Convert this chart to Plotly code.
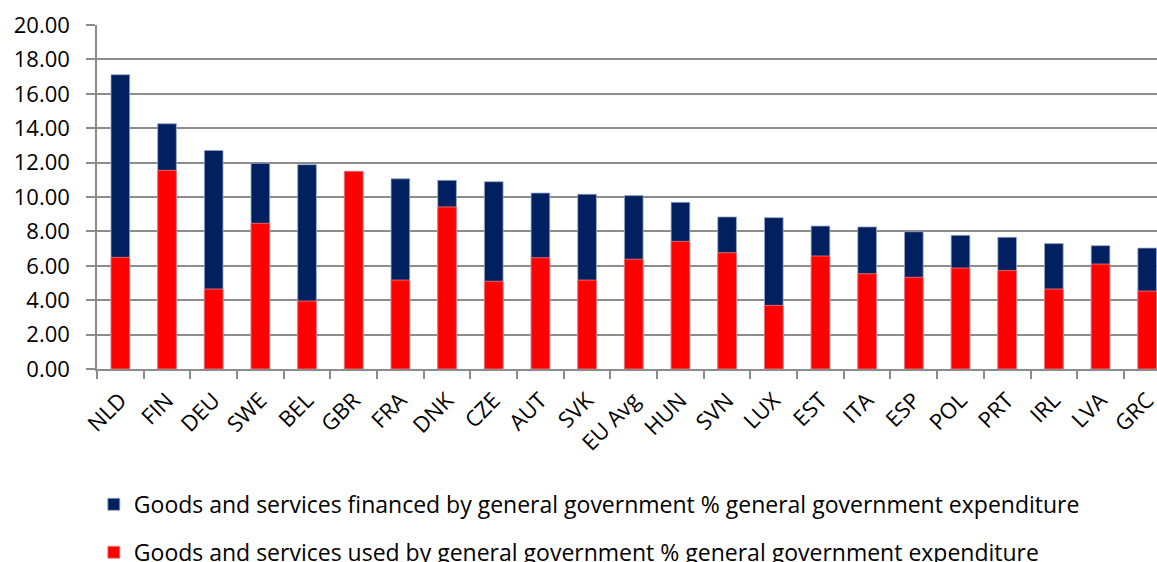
import plotly.graph_objects as go

countries = ["NLD", "FIN", "DEU", "SWE", "BEL", "GBR", "FRA", "DNK", "CZE", "AUT", "SVK",
             "EU Avg", "HUN", "SVN", "LUX", "EST", "ITA", "ESP", "POL", "PRT", "IRL", "LVA", "GRC"]
financed = [17.11, 14.26, 12.71, 11.96, 11.88, 11.49, 11.06, 10.97, 10.89, 10.23, 10.16,
            10.08, 9.69, 8.84, 8.80, 8.31, 8.26, 7.98, 7.77, 7.66, 7.29, 7.17, 7.03]
used = [6.49, 11.55, 4.65, 8.47, 3.95, 11.49, 5.17, 9.42, 5.10, 6.47, 5.17,
        6.38, 7.42, 6.76, 3.70, 6.57, 5.54, 5.33, 5.87, 5.72, 4.65, 6.10, 4.53]
y_ticks = [0, 2, 4, 6, 8, 10, 12, 14, 16, 18, 20]

name_fin = "Goods and services financed by general government % general government expenditure"
name_used = "Goods and services used by general government % general government expenditure"

FONT = "Open Sans"

fig = go.Figure()
fig.add_trace(go.Bar(x=countries, y=financed, name=name_fin, width=0.4,
                     marker=dict(color="#002060", line=dict(color="#9aa8c8", width=0.8)),
                     legendgroup="a"))
fig.add_trace(go.Bar(x=countries, y=used, name=name_used, width=0.4,
                     marker=dict(color="#ff0000", line=dict(color="#f08080", width=0.8)),
                     legendgroup="b"))

fig.update_layout(
    width=1157, height=562,
    barmode="overlay",
    paper_bgcolor="white", plot_bgcolor="white",
    margin=dict(l=97, r=0, t=25, b=193, autoexpand=False),
    font=dict(family=FONT, size=22, color="black"),
    showlegend=True,
    legend=dict(orientation="v", x=-0.003, xanchor="left", y=-0.331, yanchor="top",
                font=dict(family=FONT, size=23, color="black"),
                tracegroupgap=15, traceorder="grouped", bgcolor="rgba(0,0,0,0)"),
)
fig.update_xaxes(
    range=[-0.5, 22.21], tickangle=-45, tickson="boundaries", ticks="outside",
    ticklen=8, tickcolor="#8c8c8c", tickwidth=1.5, ticklabelstandoff=8,
    showline=True, linecolor="#8c8c8c", linewidth=1.5,
    showgrid=False, tickfont=dict(family=FONT, size=22, color="black"),
)
fig.update_yaxes(
    range=[0, 20], tickvals=y_ticks, tickformat=".2f",
    ticks="outside", ticklen=9, tickcolor="#8c8c8c", tickwidth=1.5, ticklabelstandoff=12,
    showline=True, linecolor="#8c8c8c", linewidth=1.5,
    showgrid=True, gridcolor="#8c8c8c", gridwidth=1.5,
    zeroline=False, tickfont=dict(family=FONT, size=22, color="black"),
)

fig.write_html(
    "out.html",
    config={"displayModeBar": False},
    post_script="document.body.style.margin='0';document.body.style.overflow='hidden';",
)
